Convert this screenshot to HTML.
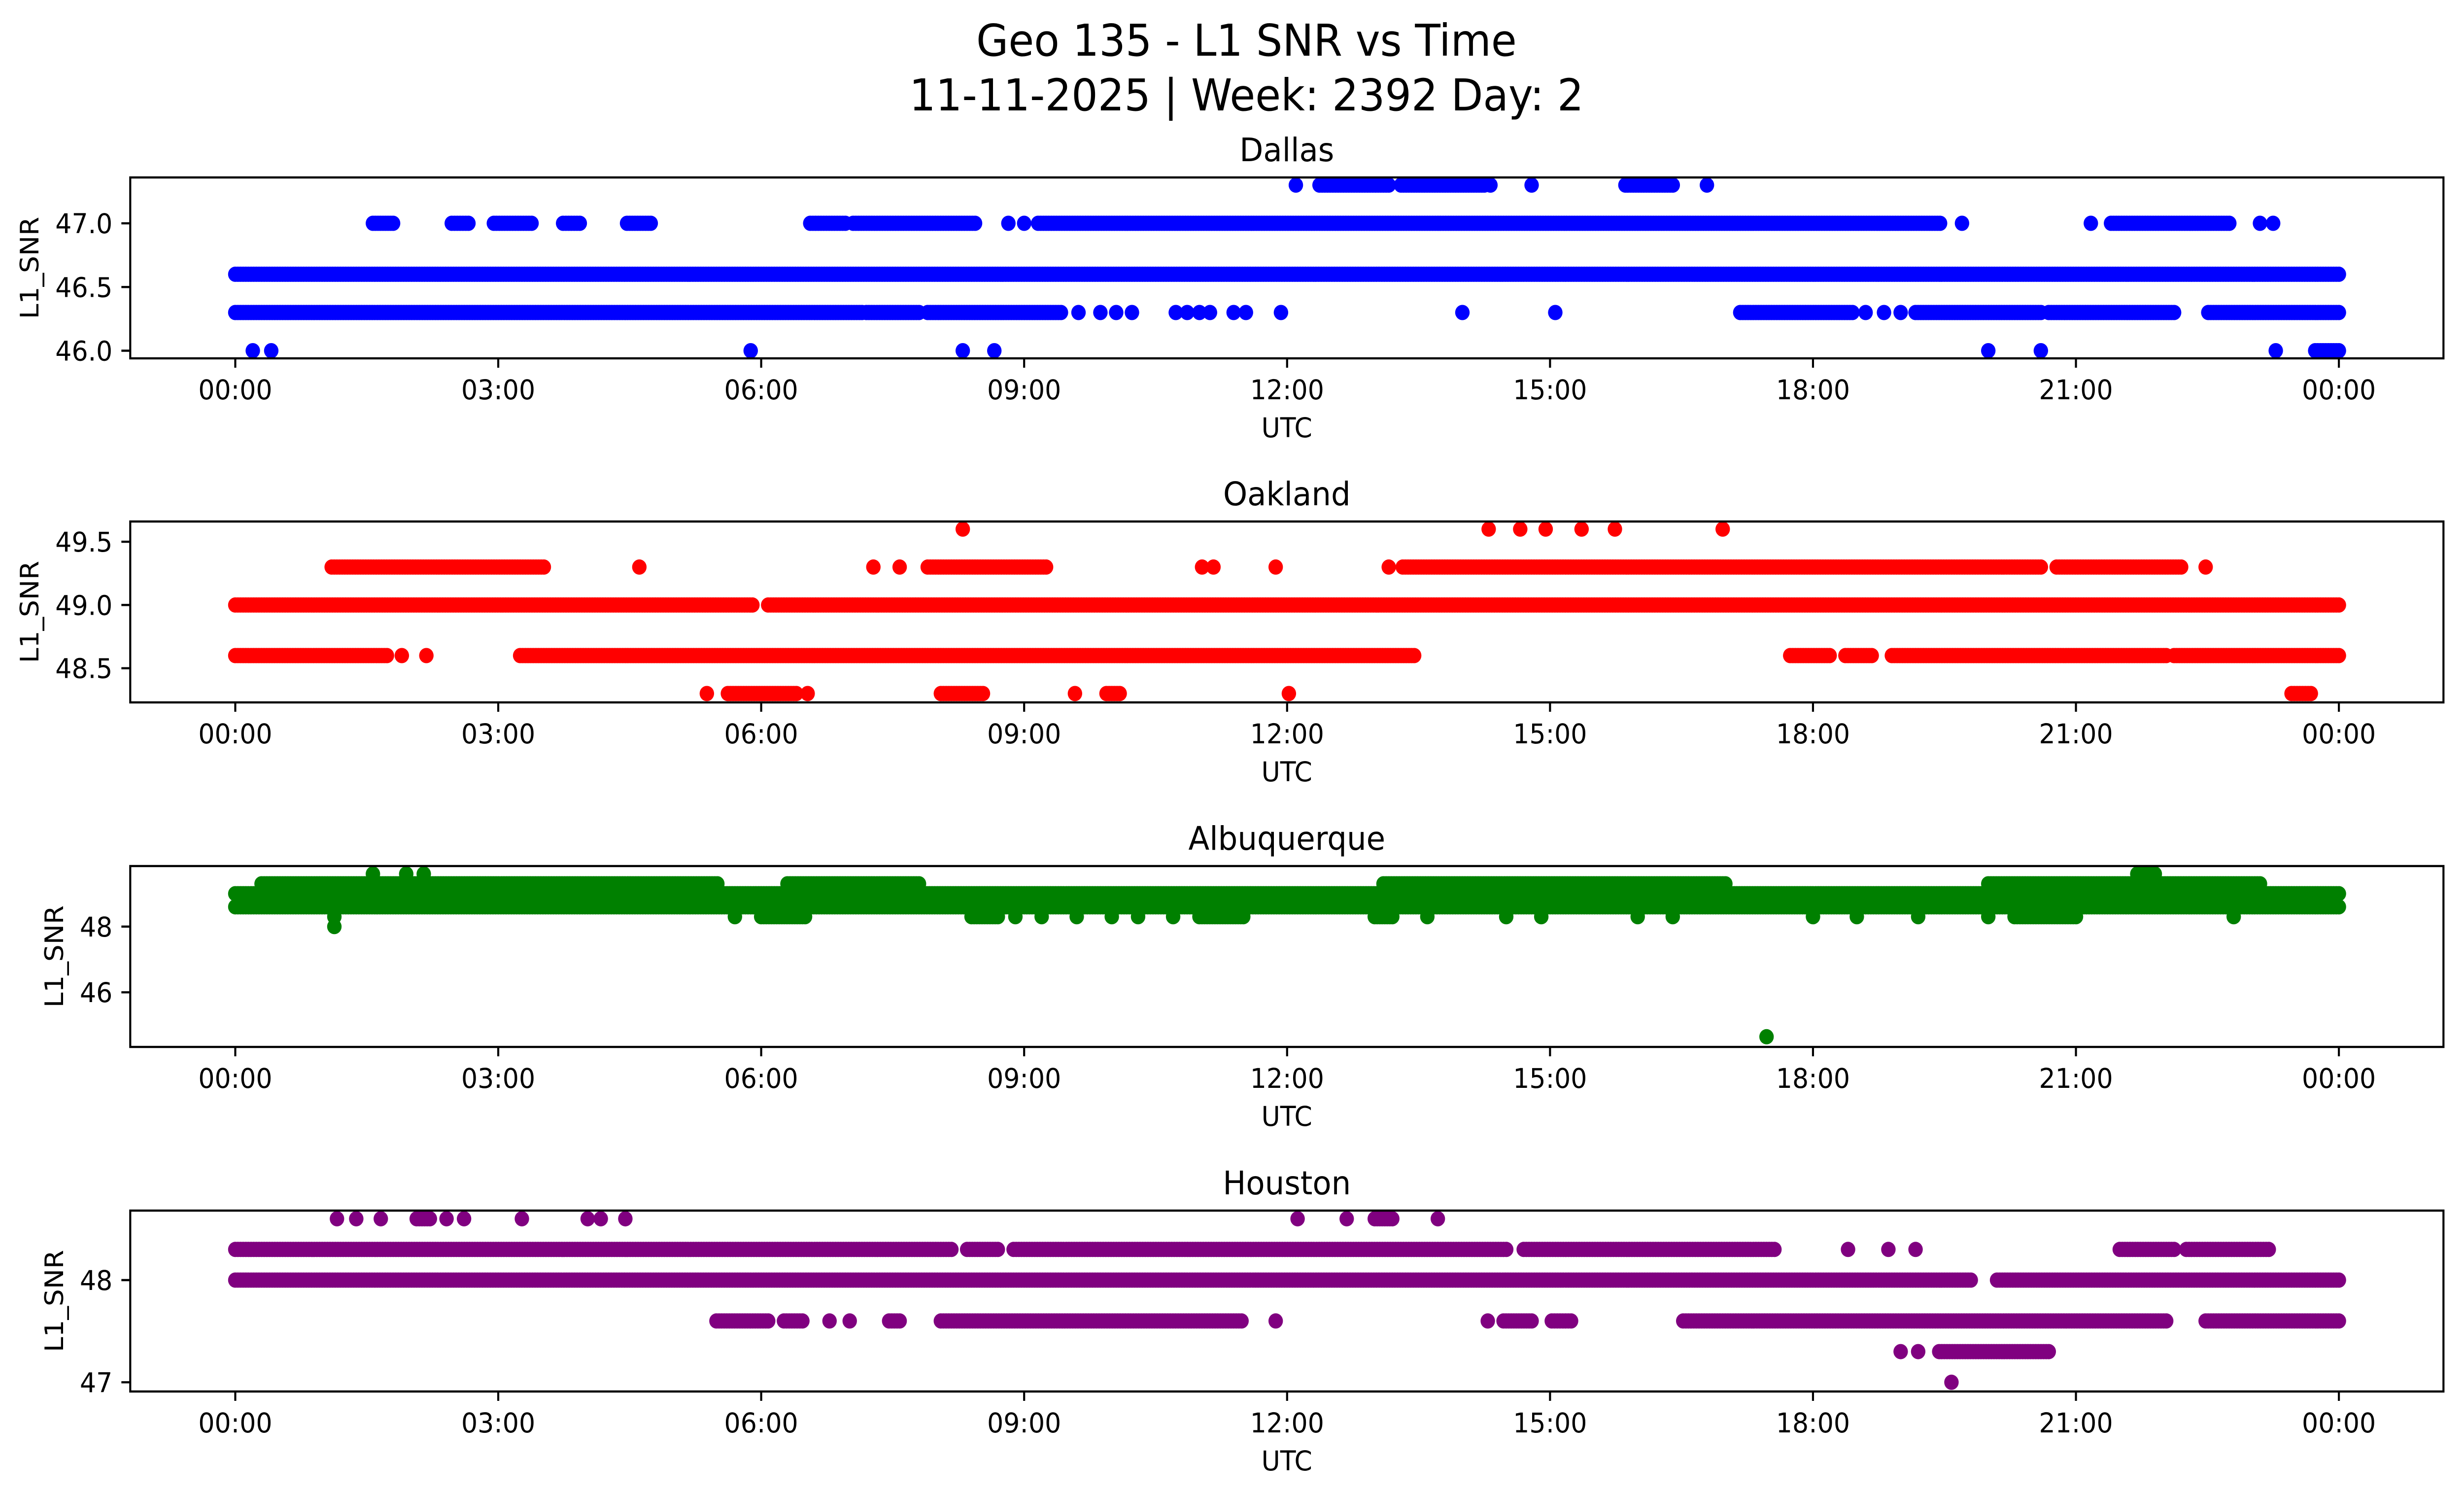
<!DOCTYPE html>
<html><head><meta charset="utf-8"><style>
html,body{margin:0;padding:0;background:#fff;overflow:hidden;width:100%;height:100%}
svg{display:block;position:absolute;left:0;top:0;width:100vw;height:100vh;font-family:"DejaVu Sans","Liberation Sans",sans-serif}
</style></head><body>
<svg id="chart" viewBox="0 0 5278 3033" preserveAspectRatio="none" xmlns="http://www.w3.org/2000/svg">
<rect width="5278" height="3033" fill="#fff"/>
<text x="2670" y="113" font-size="89" text-anchor="middle">Geo 135 - L1 SNR vs Time</text>
<text x="2670" y="224" font-size="89" text-anchor="middle">11-11-2025 | Week: 2392 Day: 2</text>
<g id="panels"></g>
</svg>
<script>
// ---- data (hours UTC, SNR values) ----
const xTickHours = [0,3,6,9,12,15,18,21,24];
const xTickLabels = ["00:00","03:00","06:00","09:00","12:00","15:00","18:00","21:00","00:00"];
const stations = ["Dallas","Oakland","Albuquerque","Houston"];
const colors = ["#0000ff","#ff0000","#008000","#800080"];
const yDomains = [[45.94,47.36],[48.23,49.66],[44.34,49.84],[46.91,48.68]];
const yTicks = [[46.0,46.5,47.0],[48.5,49.0,49.5],[46,48],[47,48]];
const yTickLabels = [["46.0","46.5","47.0"],["48.5","49.0","49.5"],["46","48"],["47","48"]];

// runs: [startHour, endHour, value]
const dallasRuns = [[0,24,46.6],[0,7.15,46.3],[7.2,7.8,46.3],[7.9,9.42,46.3],[17.17,18.45,46.3],[19.17,20.6,46.3],[20.69,22.12,46.3],[22.51,24,46.3],
 [1.57,1.8,47.0],[2.47,2.66,47.0],[2.95,3.38,47.0],[3.74,3.93,47.0],[4.47,4.74,47.0],[6.56,6.96,47.0],[7.05,8.44,47.0],[9.16,19.45,47.0],[21.4,22.75,47.0],
 [12.37,13.16,47.3],[13.3,14.25,47.3],[15.86,16.4,47.3],[23.73,24,46.0]];
const dallasPointsT = [9.62,9.87,10.05,10.23,10.73,10.86,11.0,11.12,11.39,11.53,11.93,14.0,15.06,18.6,18.81,19.0, 8.82,9.0,19.7,21.17,23.1,23.25, 12.1,14.32,14.79,16.79, 0.2,0.41,5.88,8.3,8.66,20.0,20.6,23.28];
const dallasPointsV = [46.3,46.3,46.3,46.3,46.3,46.3,46.3,46.3,46.3,46.3,46.3,46.3,46.3,46.3,46.3,46.3, 47.0,47.0,47.0,47.0,47.0,47.0, 47.3,47.3,47.3,47.3, 46.0,46.0,46.0,46.0,46.0,46.0,46.0,46.0];

const oaklandRuns = [[0,5.9,49.0],[6.08,24,49.0],[0,1.73,48.6],[3.25,13.45,48.6],[17.74,18.19,48.6],[18.37,18.67,48.6],[18.9,22.03,48.6],[22.12,24,48.6],
 [1.1,3.52,49.3],[7.9,9.25,49.3],[13.32,20.6,49.3],[20.78,22.2,49.3],[5.62,6.4,48.3],[8.05,8.53,48.3],[9.94,10.09,48.3],[23.46,23.68,48.3]];
const oaklandPointsT = [1.9,2.18, 4.61,7.28,7.58,11.03,11.16,11.87,13.16,22.48, 8.3,14.3,14.66,14.95,15.36,15.74,16.97, 5.38,6.53,9.58,12.02];
const oaklandPointsV = [48.6,48.6, 49.3,49.3,49.3,49.3,49.3,49.3,49.3,49.3, 49.6,49.6,49.6,49.6,49.6,49.6,49.6, 48.3,48.3,48.3,48.3];

const albuquerqueRuns = [[0,24,49.0],[0,24,48.6],[0.3,5.5,49.3],[6.3,7.8,49.3],[13.1,17.0,49.3],[20.0,23.1,49.3],[21.7,21.9,49.6],[6.0,6.5,48.3],[8.4,8.7,48.3],[11.0,11.5,48.3],[13.0,13.2,48.3],[20.3,21.0,48.3]];
const albuquerquePointsT = [1.13,1.13,1.57,1.95,2.15,5.7,8.9,9.2,9.6,10.0,10.3,10.7,13.6,14.5,14.9,16.0,16.4,18.0,18.5,19.2,20.0,22.8,17.47];
const albuquerquePointsV = [48.0,48.3,49.6,49.6,49.6,48.3,48.3,48.3,48.3,48.3,48.3,48.3,48.3,48.3,48.3,48.3,48.3,48.3,48.3,48.3,48.3,48.3,44.65];

const houstonRuns = [[0,19.8,48.0],[20.1,24,48.0],[0,8.17,48.3],[8.35,8.7,48.3],[8.88,14.5,48.3],[14.7,17.56,48.3],[21.5,22.12,48.3],[22.26,23.2,48.3],
 [5.49,6.08,47.6],[6.26,6.47,47.6],[7.46,7.58,47.6],[8.05,11.48,47.6],[14.47,14.79,47.6],[15.02,15.24,47.6],[16.52,22.03,47.6],[22.48,24,47.6],
 [2.07,2.22,48.6],[13.0,13.2,48.6],[19.44,20.69,47.3]];
const houstonPointsT = [18.4,18.86,19.17, 6.78,7.01,11.87,14.29, 1.16,1.38,1.66,2.41,2.61,3.27,4.02,4.17,4.45,12.12,12.68,13.72, 19.0,19.2, 19.58];
const houstonPointsV = [48.3,48.3,48.3, 47.6,47.6,47.6,47.6, 48.6,48.6,48.6,48.6,48.6,48.6,48.6,48.6,48.6,48.6,48.6,48.6, 47.3,47.3, 47.0];

const allRuns = [dallasRuns, oaklandRuns, albuquerqueRuns, houstonRuns];
const allPointsT = [dallasPointsT, oaklandPointsT, albuquerquePointsT, houstonPointsT];
const allPointsV = [dallasPointsV, oaklandPointsV, albuquerquePointsV, houstonPointsV];

// ---- layout ----
const NS = "http://www.w3.org/2000/svg";
const L = 279, R = 5234, H = 367;
const panelTops = [360, 1058, 1757, 2456];
const X0 = 504, PXH = 187.75;
function xScale(h){ return X0 + h * PXH; }
function yScaleFor(i){ const [a,b] = yDomains[i]; const top = panelTops[i]; return v => top + H - (v - a) / (b - a) * H; }
function mk(tag, attrs, parent){ const e = document.createElementNS(NS, tag); for (const k in attrs) e.setAttribute(k, attrs[k]); parent.appendChild(e); return e; }

const root = document.getElementById("panels");
stations.forEach((name, i) => {
  const top = panelTops[i], bot = top + H, ys = yScaleFor(i);
  const g = mk("g", {}, root);
  
  
  const clipId = "clip" + i;
  const cp = mk("clipPath", {id: clipId}, g);
  mk("rect", {x: L, y: top, width: R - L, height: H}, cp);
  const marks = mk("g", {"clip-path": "url(#" + clipId + ")", fill: colors[i]}, g);
  
  
  allRuns[i].forEach(run => {
    const [s, e, v] = run;
    const n = Math.max(1, Math.round((e - s) / 0.03));
    for (let k = 0; k <= n; k++) {
      mk("circle", {cx: xScale(s + (e - s) * k / n).toFixed(1), cy: ys(v).toFixed(1), r: 15.5}, marks);
    }
  });
  allPointsT[i].forEach((t, k) => {
    const c = mk("circle", {cx: xScale(t).toFixed(1), cy: ys(allPointsV[i][k]).toFixed(1), r: 15.5}, marks);
    
    
  });
  const frame = mk("rect", {x: L, y: top, width: R - L, height: H, fill: "none", stroke: "#000", "stroke-width": 4.4}, g);
  
  
  xTickHours.forEach((h, k) => {
    const x = xScale(h);
    mk("line", {x1: x, x2: x, y1: bot, y2: bot + 19, stroke: "#000", "stroke-width": 4.4}, g);
    const t = mk("text", {x: x, y: bot + 83, "font-size": 55, "text-anchor": "middle"}, g);
    t.textContent = xTickLabels[k];
    
    
  });
  let maxW = 0;
  yTicks[i].forEach((v, k) => {
    const y = ys(v);
    mk("line", {x1: L - 19, x2: L, y1: y, y2: y, stroke: "#000", "stroke-width": 4.4}, g);
    const t = mk("text", {x: L - 38, y: y + 20, "font-size": 55, "text-anchor": "end"}, g);
    t.textContent = yTickLabels[i][k];
    
    
    const lab = yTickLabels[i][k];
    const w = lab.replace(/[^0-9]/g, "").length * 35 + (lab.includes(".") ? 17.5 : 0);
    maxW = Math.max(maxW, w);
  });
  const ylx = L - 38 - maxW - 22 - 14;
  const yl = mk("text", {x: ylx, y: top + H / 2, "font-size": 55, "text-anchor": "middle", transform: "rotate(-90 " + ylx + " " + (top + H / 2) + ")"}, g);
  yl.textContent = "L1_SNR";
  
  
  const xl = mk("text", {x: (L + R) / 2, y: bot + 160, "font-size": 55, "text-anchor": "middle"}, g);
  xl.textContent = "UTC";
  
  
  const tt = mk("text", {x: (L + R) / 2, y: top - 33, "font-size": 66, "text-anchor": "middle"}, g);
  tt.textContent = name;
  
  
});
</script>
</body></html>
